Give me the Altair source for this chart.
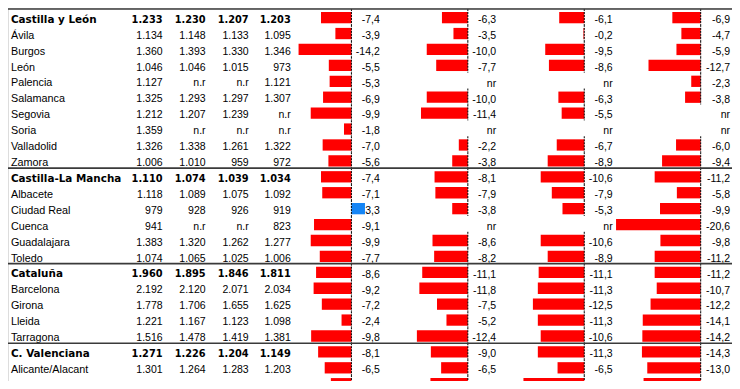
import altair as alt
import pandas as pd

# ---------------- data ----------------
names = ["Castilla y León", "Ávila", "Burgos", "León", "Palencia", "Salamanca",
         "Segovia", "Soria", "Valladolid", "Zamora",
         "Castilla-La Mancha", "Albacete", "Ciudad Real", "Cuenca", "Guadalajara", "Toledo",
         "Cataluña", "Barcelona", "Girona", "Lleida", "Tarragona",
         "C. Valenciana", "Alicante/Alacant", "Castellón/Castelló"]
bold_rows = [0, 10, 16, 21]

n1 = [1233, 1134, 1360, 1046, 1127, 1325, 1212, 1359, 1326, 1006,
      1110, 1118, 979, 941, 1383, 1074,
      1960, 2192, 1778, 1221, 1516,
      1271, 1301, 1330]
n2 = [1230, 1148, 1393, 1046, None, 1293, 1207, None, 1338, 1010,
      1074, 1089, 928, None, 1320, 1065,
      1895, 2120, 1706, 1167, 1478,
      1226, 1264, 1304]
n3 = [1207, 1133, 1330, 1015, None, 1297, 1239, None, 1261, 959,
      1039, 1075, 926, None, 1262, 1025,
      1846, 2071, 1655, 1123, 1419,
      1204, 1283, 1230]
n4 = [1203, 1095, 1346, 973, 1121, 1307, None, None, 1322, 972,
      1034, 1092, 919, 823, 1277, 1006,
      1811, 2034, 1625, 1098, 1381,
      1149, 1203, 1180]

c1 = [-7.4, -3.9, -14.2, -5.5, -5.3, -6.9, -9.9, -1.8, -7.0, -5.6,
      -7.4, -7.1, 3.3, -9.1, -9.9, -7.7,
      -8.6, -9.2, -7.2, -2.4, -9.8,
      -8.1, -6.5, -5.0]
c2 = [-6.3, -3.5, -10.0, -7.7, None, -10.0, -11.4, None, -2.2, -3.8,
      -8.1, -7.9, -3.8, None, -8.6, -8.2,
      -11.1, -11.8, -7.5, -5.2, -12.4,
      -9.0, -6.5, -9.1]
c3 = [-6.1, -0.2, -9.5, -8.6, None, -6.3, -5.5, None, -6.7, -8.9,
      -10.6, -7.9, -5.3, None, -10.6, -8.9,
      -11.1, -11.3, -12.5, -11.3, -10.6,
      -11.3, -6.5, -14.8]
c4 = [-6.9, -4.7, -5.9, -12.7, -2.3, -3.8, None, None, -6.0, -9.4,
      -11.2, -5.8, -9.9, -20.6, -9.8, -11.2,
      -11.2, -10.7, -12.2, -14.1, -14.2,
      -14.3, -13.0, -13.9]

# ---------------- layout (style only) ----------------
W, H = 724, 373
SX, SY = W / 740.0, H / 389.0
RED, BLUE = "#ff0000", "#1585f5"
NAME_X = 3
NUM_RIGHT = [158, 202, 246, 289]
ZERO_X = [351, 470, 589, 708]
LAB_RIGHT = [380, 499, 618, 738]
PX_PER_UNIT = 4.2
LEFT_LIMIT = [-12.86, -21.5, -21.5, -21.5]
RIGHT_LIMIT = 5.0
NARROW = "Liberation Sans Narrow, Arial Narrow, Liberation Sans"


def fmt_num(v):
    if v is None:
        return "n.r"
    return f"{v:,}".replace(",", ".")


def fmt_chg(v):
    if v is None:
        return "nr"
    return f"{v:.1f}".replace(".", ",")


rows = pd.DataFrame({
    "r": list(range(len(names))),
    "name": names,
    "bold": [i in bold_rows for i in range(len(names))],
    "s1": [fmt_num(v) for v in n1],
    "s2": [fmt_num(v) for v in n2],
    "s3": [fmt_num(v) for v in n3],
    "s4": [fmt_num(v) for v in n4],
})

yscale = alt.Scale(domain=[-0.06, 23.373], reverse=True, nice=False, zero=False)

base = alt.Chart(rows).transform_calculate(yt="datum.r + 0.87")

layers = []

# names
layers.append(
    base.transform_filter("!datum.bold").mark_text(
        align="left", baseline="alphabetic", font="Liberation Sans", fontSize=10.8,
        color="black", clip=True
    ).encode(x=alt.value(NAME_X * SX), y=alt.Y("yt:Q", scale=yscale, axis=None), text="name:N")
)
layers.append(
    base.transform_filter("datum.bold").mark_text(
        align="left", baseline="alphabetic", font="DejaVu Sans", fontWeight="bold",
        fontSize=10.4, color="black", clip=True
    ).encode(x=alt.value(NAME_X * SX), y=alt.Y("yt:Q", scale=yscale, axis=None), text="name:N")
)

# number columns
for j, xr in enumerate(NUM_RIGHT):
    field = f"s{j+1}:N"
    layers.append(
        base.transform_filter("!datum.bold").mark_text(
            align="right", baseline="alphabetic", font=NARROW, fontSize=10.5,
            color="black", clip=True
        ).encode(x=alt.value(xr * SX), y=alt.Y("yt:Q", scale=yscale, axis=None), text=field)
    )
    layers.append(
        base.transform_filter("datum.bold").mark_text(
            align="right", baseline="alphabetic", font="DejaVu Sans", fontWeight="bold",
            fontSize=9.8, color="black", clip=True
        ).encode(x=alt.value(xr * SX), y=alt.Y("yt:Q", scale=yscale, axis=None), text=field)
    )

# bar columns
for k, vals in enumerate([c1, c2, c3, c4]):
    cdf = pd.DataFrame({
        "r": list(range(len(vals))),
        "v": vals,
        "lab": [fmt_chg(v) for v in vals],
    })
    a, b = LEFT_LIMIT[k], RIGHT_LIMIT
    xs = alt.Scale(
        domain=[a, b],
        range=[(ZERO_X[k] + a * PX_PER_UNIT) * SX, (ZERO_X[k] + b * PX_PER_UNIT) * SX],
        clamp=True, nice=False, zero=False,
    )
    cb = alt.Chart(cdf).transform_calculate(
        y0="datum.r + 0.19", y1="datum.r + 0.9", r1="datum.r + 1", z="0", yt="datum.r + 0.88"
    )
    bars = cb.transform_filter("isValid(datum.v)").mark_bar(clip=True).encode(
        x=alt.X("v:Q", scale=xs, axis=None),
        x2="z:Q",
        y=alt.Y("y0:Q", scale=yscale, axis=None),
        y2="y1:Q",
        color=alt.condition("datum.v > 0", alt.value(BLUE), alt.value(RED)),
    )
    rule = cb.transform_filter("isValid(datum.v)").mark_rule(
        color="black", strokeDash=[2, 1], strokeWidth=1, clip=True
    ).encode(
        x=alt.X("z:Q", scale=xs, axis=None),
        y=alt.Y("r:Q", scale=yscale, axis=None),
        y2="r1:Q",
    )
    labels = cb.mark_text(
        align="right", baseline="alphabetic", font=NARROW, fontSize=10.5,
        color="black", clip=True
    ).encode(
        x=alt.value(LAB_RIGHT[k] * SX),
        y=alt.Y("yt:Q", scale=yscale, axis=None),
        text="lab:N",
    )
    layers.append(alt.layer(bars, rule, labels))

# separator lines
sep = pd.DataFrame({"r": bold_rows})
layers.append(
    alt.Chart(sep).mark_rule(color="#3a3a3a", strokeWidth=1.6).encode(
        x=alt.value(0), x2=alt.value(W), y=alt.Y("r:Q", scale=yscale, axis=None)
    )
)

chart = alt.layer(*layers).resolve_scale(x="independent").properties(
    width=W, height=H, padding=0,
    autosize=alt.AutoSizeParams(type="none"),
).configure_view(stroke=None).configure(background="white")

chart.save("out.html", embed_options={"renderer": "svg", "actions": False})
